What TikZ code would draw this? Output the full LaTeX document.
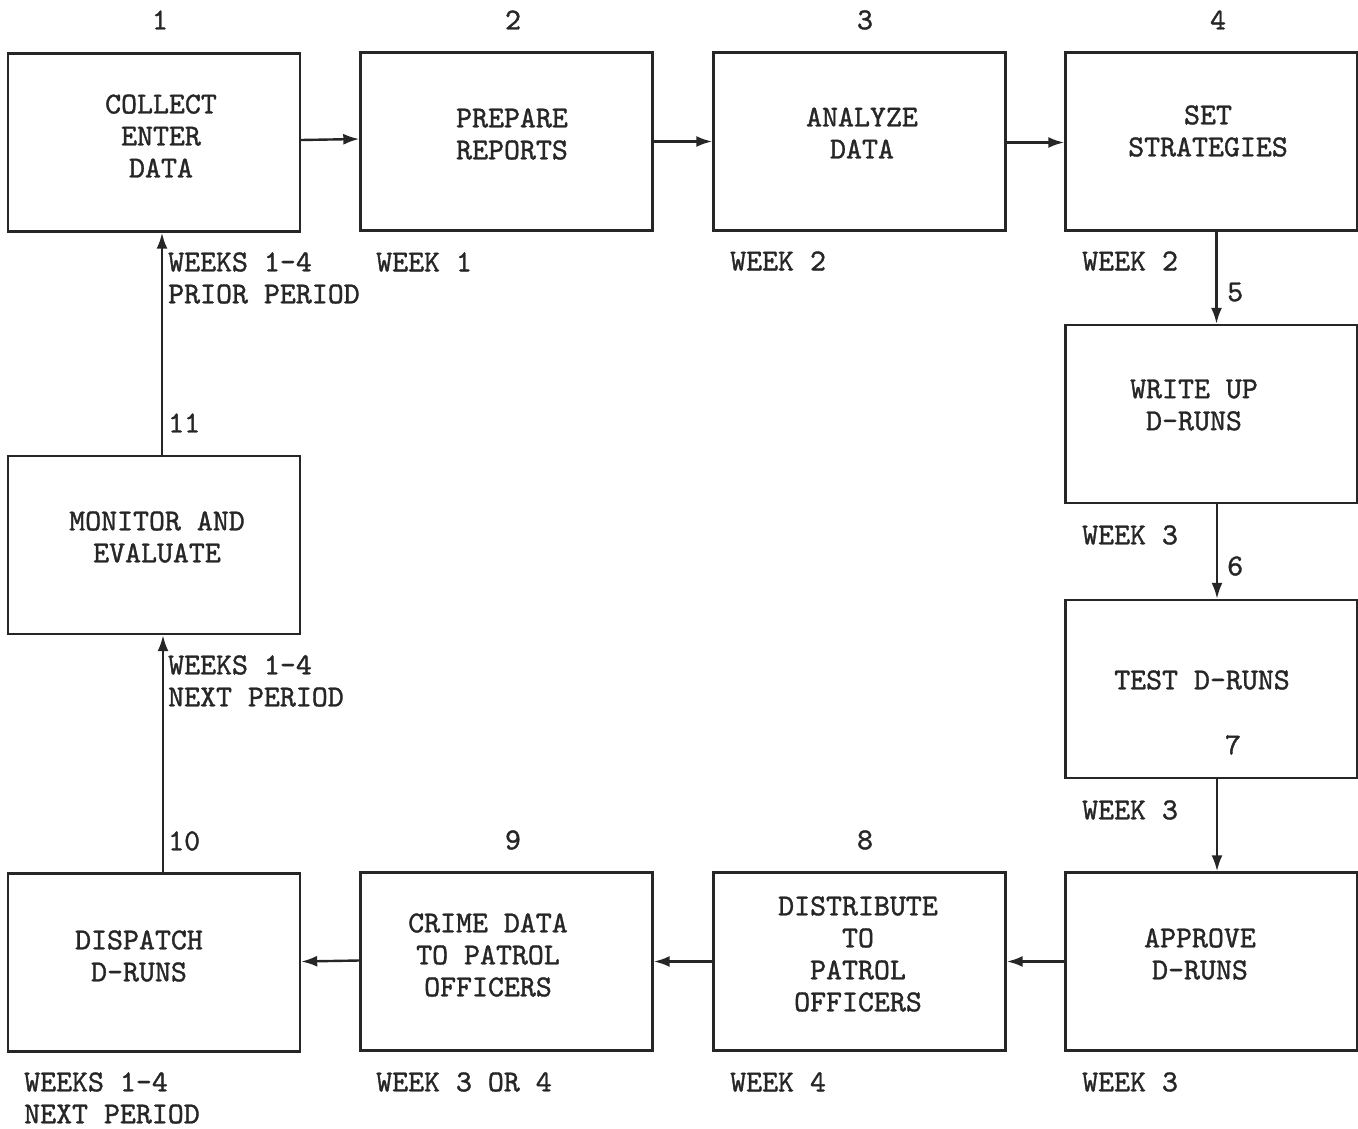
\documentclass[tikz,border=0pt]{standalone}
\usepackage{fontspec}
\newfontfamily\tw{lmmono10-regular}[Extension=.otf,FakeBold=1.2]
\usetikzlibrary{arrows.meta}
\begin{document}
\begin{tikzpicture}[x=1pt,y=-1pt,
  box/.style={draw=black!85,line width=2.4pt,minimum width=292pt,minimum height=178pt,inner sep=0pt},
  txt/.style={font=\tw\fontsize{30.4}{32}\selectfont,align=center,inner sep=0pt,text=black!85},
  lbl/.style={font=\tw\fontsize{30.4}{32}\selectfont,align=left,inner sep=0pt,anchor=west,text=black!85},
  arr/.style={draw=black!85,line width=2.4pt,-{Latex[length=16pt,width=11pt]}}]
\useasboundingbox[fill=white] (0,0) rectangle (1358,1129);
% boxes
\node[box] (b1) at (154,142.5) {};
\node[box] (b2) at (506.5,141.5) {};
\node[box] (b3) at (859.5,141.5) {};
\node[box] (b4) at (1211.5,141.5) {};
\node[box] (b5) at (1211.5,414) {};
\node[box] (b6) at (1211.5,689) {};
\node[box] (b7) at (1211.5,961.5) {};
\node[box] (b8) at (859.5,961.5) {};
\node[box] (b9) at (506.5,961.5) {};
\node[box] (b10) at (154,962.5) {};
\node[box] (b11) at (154,545) {};
% box texts
\node[txt] (t1) at (161,136) {COLLECT\\ENTER\\DATA};
\node[txt] (t2) at (512,134) {PREPARE\\REPORTS};
\node[txt] (t3) at (862,133) {ANALYZE\\DATA};
\node[txt] (t4) at (1208,131) {SET\\STRATEGIES};
\node[txt] (t5) at (1194,405) {WRITE UP\\D-RUNS};
\node[txt] (t6) at (1202,680) {TEST D-RUNS};
\node[txt] (t7) at (1200,954) {APPROVE\\D-RUNS};
\node[txt] (t8) at (858,954) {DISTRIBUTE\\TO\\PATROL\\OFFICERS};
\node[txt] (t9) at (488,955) {CRIME DATA\\TO PATROL\\OFFICERS};
\node[txt] (t10) at (139,956) {DISPATCH\\D-RUNS};
\node[txt] (t11) at (157,537) {MONITOR AND\\EVALUATE};
% week labels
\node[lbl] (w1) at (168,278) {WEEKS 1-4\\PRIOR PERIOD};
\node[lbl] (w2) at (376,262) {WEEK 1};
\node[lbl] (w3) at (730,261) {WEEK 2};
\node[lbl] (w4) at (1082,261) {WEEK 2};
\node[lbl] (w5) at (1082,535) {WEEK 3};
\node[lbl] (w6) at (1082,810) {WEEK 3};
\node[lbl] (w7) at (168,681) {WEEKS 1-4\\NEXT PERIOD};
\node[lbl] (w8) at (24,1098) {WEEKS 1-4\\NEXT PERIOD};
\node[lbl] (w9) at (376,1082) {WEEK 3 OR 4};
\node[lbl] (w10) at (730,1082) {WEEK 4};
\node[lbl] (w11) at (1082,1082) {WEEK 3};
% step numbers
\node[txt] (n1) at (160,20) {1};
\node[txt] (n2) at (513,20) {2};
\node[txt] (n3) at (865,20) {3};
\node[txt] (n4) at (1218,20) {4};
\node[lbl] (n5) at (1227,292) {5};
\node[lbl] (n6) at (1227,566) {6};
\node[txt] (n7) at (1233,745) {7};
\node[txt] (n8) at (865,840) {8};
\node[txt] (n9) at (513,840) {9};
\node[lbl] (n10) at (168,841) {10};
\node[lbl] (n11) at (168,423) {11};
% connectors
\draw[arr] ([yshift=2.5pt]b1.east) -- ([yshift=2.5pt]b2.west);
\draw[arr] (b2.east) -- (b3.west);
\draw[arr] ([yshift=-1pt]b3.east) -- ([yshift=-1pt]b4.west);
\draw[arr] ([xshift=5pt]b4.south) -- ([xshift=5pt]b5.north);
\draw[arr] ([xshift=5.5pt]b5.south) -- ([xshift=5.5pt]b6.north);
\draw[arr] ([xshift=5.5pt]b6.south) -- ([xshift=5.5pt]b7.north);
\draw[arr] (b7.west) -- (b8.east);
\draw[arr] (b8.west) -- (b9.east);
\draw[arr] ([yshift=1pt]b9.west) -- ([yshift=1pt]b10.east);
\draw[arr] ([xshift=9pt]b10.north) -- ([xshift=9pt]b11.south);
\draw[arr] ([xshift=8pt]b11.north) -- ([xshift=8pt]b1.south);
\end{tikzpicture}
\end{document}
